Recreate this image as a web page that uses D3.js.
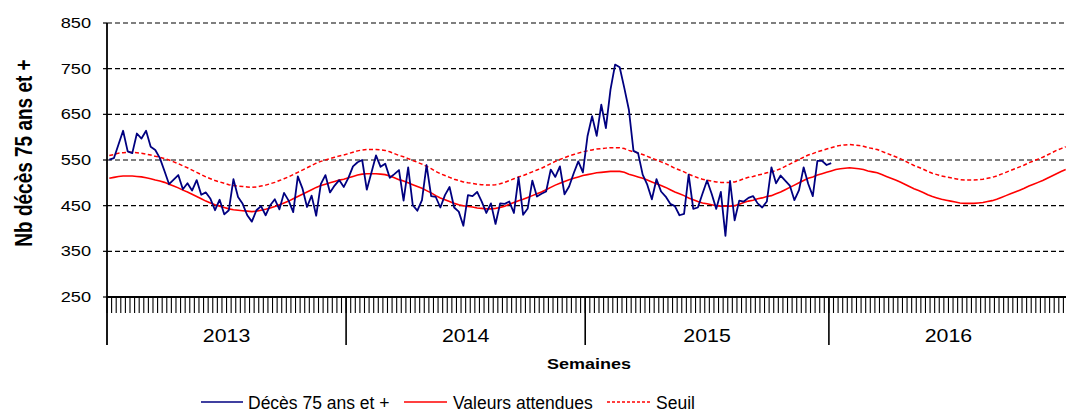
<!DOCTYPE html>
<html>
  <body style="margin:0;background:#fff">
    <script src="https://d3js.org/d3.v7.min.js"></script>
    <script type="text/javascript">
      const width = 1066;
      const height = 412;

      const years = [2013, 2014, 2015, 2016];
      const weeksPerYear = [52, 52, 53, 52];
      const yTicks = [250, 350, 450, 550, 650, 750, 850];

      // weekly deaths, 2013-W01 .. 2016-W01
      const deces = [
        551, 554, 584, 614, 569, 565, 608, 597, 614, 579,
        572, 554, 526, 497, 507, 517, 486, 499, 483, 506,
        474, 479, 465, 440, 463, 431, 440, 508, 469, 454,
        429, 415, 440, 449, 429, 451, 464, 442, 478, 461,
        436, 514, 488, 447, 472, 428, 497, 517, 479, 494,
        506, 491, 511, 536, 545, 550, 485, 522, 560, 535,
        542, 511, 519, 528, 461, 534, 451, 439, 462, 539,
        471, 469, 446, 473, 491, 446, 437, 406, 473, 471,
        480, 459, 434, 455, 410, 455, 454, 459, 434, 512,
        430, 444, 505, 470, 476, 481, 529, 513, 536, 475,
        492, 521, 547, 523, 602, 646, 603, 671, 620, 704,
        759, 753, 708, 660, 570, 565, 518, 496, 464, 508,
        481, 470, 454, 449, 429, 432, 518, 443, 446, 476,
        505, 476, 443, 480, 384, 504, 418, 461, 459, 467,
        471, 455, 446, 459, 534, 499, 516, 505, 494, 462,
        484, 534, 498, 471, 548, 548, 539, 543
      ];

      const attendues = [
        510, 512, 514, 515, 515, 515, 514, 513, 511, 509,
        506, 504, 501, 497, 493, 489, 484, 480, 475, 470,
        465, 460, 456, 452, 449, 446, 443, 441, 440, 439,
        438, 437, 438, 440, 442, 445, 448, 452, 456, 460,
        465, 470, 475, 480, 485, 490, 494, 497, 500, 503,
        506, 508, 511, 514, 517, 519, 520, 520, 520, 519,
        518, 515, 511, 507, 504, 500, 496, 492, 488, 483,
        478, 472, 467, 463, 459, 455, 452, 450, 448, 447,
        445, 444, 443, 443, 444, 446, 449, 453, 457, 461,
        464, 468, 472, 476, 480, 485, 490, 495, 499, 503,
        507, 510, 513, 516, 518, 520, 522, 523, 524, 525,
        525, 525, 523, 519, 516, 513, 510, 506, 502, 498,
        494, 490, 485, 480, 476, 472, 467, 463, 459, 456,
        454, 452, 450, 449, 449, 449, 450, 453, 457, 460,
        462, 465, 467, 470, 472, 476, 480, 485, 490, 495,
        500, 505, 510, 513, 517, 520, 523, 526, 529, 531,
        532, 533, 532, 531, 529, 526, 524, 522, 518, 514,
        510, 506, 502, 497, 492, 487, 483, 479, 474, 470,
        467, 464, 462, 460, 458, 456, 455, 455, 455, 456,
        457, 459, 461, 464, 468, 472, 476, 480, 484, 488,
        493, 497, 501, 505, 510, 515, 520, 525, 529
      ];

      const seuil = [
        560, 562, 565, 566, 567, 567, 566, 565, 563, 561,
        558, 556, 553, 550, 546, 542, 537, 533, 528, 523,
        518, 513, 509, 505, 502, 499, 496, 494, 493, 492,
        491, 490, 491, 493, 495, 498, 501, 505, 509, 513,
        518, 523, 528, 533, 538, 543, 547, 550, 553, 556,
        559, 561, 564, 567, 570, 572, 573, 573, 573, 572,
        571, 568, 564, 560, 557, 553, 549, 545, 541, 536,
        531, 525, 520, 516, 512, 508, 505, 502, 500, 499,
        497, 496, 495, 495, 496, 498, 501, 505, 509, 513,
        516, 520, 524, 528, 532, 537, 542, 547, 551, 555,
        559, 562, 565, 568, 570, 572, 574, 575, 576, 577,
        577, 577, 575, 571, 568, 565, 562, 558, 554, 550,
        546, 542, 537, 532, 528, 524, 519, 515, 511, 508,
        506, 504, 502, 501, 501, 501, 502, 505, 509, 512,
        514, 517, 519, 522, 524, 527, 531, 536, 541, 546,
        551, 556, 561, 564, 568, 571, 574, 577, 580, 582,
        583, 584, 583, 582, 580, 577, 575, 573, 569, 565,
        561, 557, 553, 548, 543, 538, 534, 530, 525, 521,
        518, 515, 513, 511, 509, 507, 506, 506, 506, 507,
        508, 510, 512, 515, 519, 523, 527, 531, 535, 539,
        544, 548, 552, 556, 561, 566, 571, 575, 579
      ];

      const weeks = [];
      years.forEach((yr, k) => {
        for (let w = 1; w <= weeksPerYear[k]; w++) weeks.push(yr + '-' + w);
      });

      const plotLeft = 107;
      const plotRight = 1068;
      const plotTop = 23;
      const plotBottom = 297;

      const x = d3.scaleBand().domain(weeks).range([plotLeft, plotRight]);
      const cx = (i) => x(weeks[i]) + x.bandwidth() / 2;
      const y = d3.scaleLinear().domain([250, 850]).range([plotBottom, plotTop]);

      const svg = d3.select('body')
        .append('svg')
        .attr('width', width)
        .attr('height', height)
        .style('font-family', 'Liberation Sans, Arial, sans-serif');

      // gridlines
      svg.append('g')
        .selectAll('line')
        .data(yTicks.filter((t) => t > 250))
        .enter()
        .append('line')
        .attr('x1', plotLeft)
        .attr('x2', width)
        .attr('y1', (d) => y(d))
        .attr('y2', (d) => y(d))
        .attr('stroke', '#000')
        .attr('stroke-width', 1.1)
        .attr('stroke-dasharray', '5,3');

      // y tick marks + labels
      svg.append('g')
        .selectAll('line')
        .data(yTicks)
        .enter()
        .append('line')
        .attr('x1', plotLeft - 4)
        .attr('x2', plotLeft)
        .attr('y1', (d) => y(d))
        .attr('y2', (d) => y(d))
        .attr('stroke', '#000')
        .attr('stroke-width', 1.2);

      svg.append('g')
        .selectAll('text')
        .data(yTicks)
        .enter()
        .append('text')
        .attr('transform', (d) => `translate(91,${y(d) + 5}) scale(1.3,1)`)
        .attr('text-anchor', 'end')
        .attr('font-size', 14)
        .attr('fill', '#000')
        .text((d) => d);

      // week tick marks
      svg.append('g')
        .selectAll('line')
        .data(weeks)
        .enter()
        .append('line')
        .attr('x1', (d) => x(d))
        .attr('x2', (d) => x(d))
        .attr('y1', plotBottom)
        .attr('y2', 313)
        .attr('stroke', '#000')
        .attr('stroke-width', 1.1);

      // year separators and labels
      let start = 0;
      const yearInfo = years.map((yr, k) => {
        const x0 = x(weeks[start]);
        start += weeksPerYear[k];
        const x1 = start < weeks.length ? x(weeks[start]) : plotRight;
        return { yr, x0, x1 };
      });

      svg.append('g')
        .selectAll('line')
        .data(yearInfo.slice(1))
        .enter()
        .append('line')
        .attr('x1', (d) => d.x0)
        .attr('x2', (d) => d.x0)
        .attr('y1', plotBottom)
        .attr('y2', 345)
        .attr('stroke', '#000')
        .attr('stroke-width', 1.6);

      svg.append('g')
        .selectAll('text')
        .data(yearInfo)
        .enter()
        .append('text')
        .attr('transform', (d) => `translate(${(d.x0 + d.x1) / 2},342) scale(1.22,1)`)
        .attr('text-anchor', 'middle')
        .attr('font-size', 17.5)
        .text((d) => d.yr);

      // axes lines
      svg.append('line')
        .attr('x1', plotLeft).attr('x2', plotLeft)
        .attr('y1', plotTop).attr('y2', 345)
        .attr('stroke', '#000').attr('stroke-width', 1.8);
      svg.append('line')
        .attr('x1', plotLeft).attr('x2', width)
        .attr('y1', plotBottom).attr('y2', plotBottom)
        .attr('stroke', '#000').attr('stroke-width', 1.8);

      // series
      const line = d3.line()
        .x((d, i) => cx(i))
        .y((d) => y(d));

      svg.append('path')
        .attr('d', line(seuil))
        .attr('fill', 'none')
        .attr('stroke', '#ff0000')
        .attr('stroke-width', 1.5)
        .attr('stroke-dasharray', '4,2.5');

      svg.append('path')
        .attr('d', line(attendues))
        .attr('fill', 'none')
        .attr('stroke', '#ff0000')
        .attr('stroke-width', 1.6);

      svg.append('path')
        .attr('d', line(deces))
        .attr('fill', 'none')
        .attr('stroke', '#000080')
        .attr('stroke-width', 1.8)
        .attr('stroke-linejoin', 'round');

      // axis titles
      svg.append('text')
        .attr('transform', 'translate(32,153) rotate(-90) scale(1,1.3)')
        .attr('text-anchor', 'middle')
        .attr('font-size', 19)
        .attr('font-weight', 'bold')
        .text('Nb décès 75 ans et +');

      svg.append('text')
        .attr('transform', 'translate(589,369) scale(1.2,1)')
        .attr('text-anchor', 'middle')
        .attr('font-size', 15)
        .attr('font-weight', 'bold')
        .text('Semaines');

      // legend
      const legend = [
        { label: 'Décès 75 ans et +', color: '#000080', dash: null, x1: 201, x2: 243, tx: 248 },
        { label: 'Valeurs attendues', color: '#ff0000', dash: null, x1: 404, x2: 447, tx: 453 },
        { label: 'Seuil', color: '#ff0000', dash: '3,2', x1: 607, x2: 650, tx: 656 },
      ];

      const lg = svg.append('g')
        .selectAll('g')
        .data(legend)
        .enter()
        .append('g');

      lg.append('line')
        .attr('x1', (d) => d.x1)
        .attr('x2', (d) => d.x2)
        .attr('y1', 402)
        .attr('y2', 402)
        .attr('stroke', (d) => d.color)
        .attr('stroke-width', 1.5)
        .attr('stroke-dasharray', (d) => d.dash);

      lg.append('text')
        .attr('x', (d) => d.tx)
        .attr('y', 409)
        .attr('font-size', 17.5)
        .text((d) => d.label);
    </script>
  </body>
</html>
